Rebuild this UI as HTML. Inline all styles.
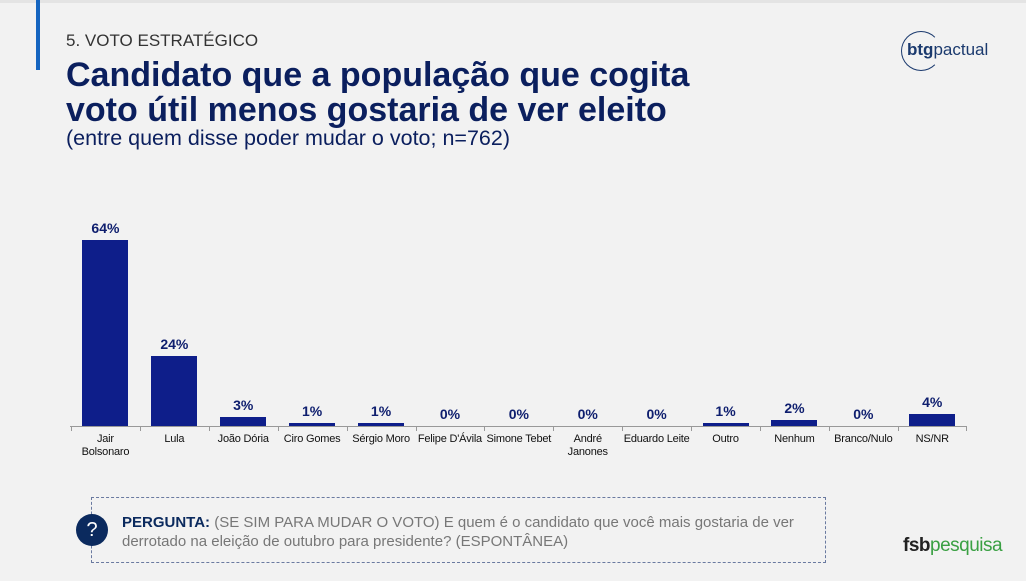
<!DOCTYPE html>
<html><head><meta charset="utf-8"><style>
body{margin:0;width:1026px;height:581px;background:#f2f2f2;position:relative;overflow:hidden;font-family:"Liberation Sans",sans-serif}
.a{position:absolute}
.bar{position:absolute;background:#0e1e8a;width:46px}
.v{position:absolute;width:70px;text-align:center;font-weight:bold;font-size:14px;color:#0e1e6e}
.c{position:absolute;width:72px;text-align:center;font-size:11px;color:#111;line-height:13px;top:433px;white-space:nowrap;letter-spacing:-0.2px}
</style></head><body>
<div class="a" style="left:0;top:0;width:1026px;height:3px;background:#e4e4e4"></div>
<div class="a" style="left:36px;top:0;width:4px;height:70px;background:#1565c0"></div>
<div class="a" style="left:66px;top:31px;font-size:17px;color:#333">5. VOTO ESTRATÉGICO</div>
<div class="a" style="left:66px;top:58px;font-size:34px;font-weight:bold;color:#0b1f5e;line-height:35px;white-space:nowrap">Candidato que a população que cogita<br>voto útil menos gostaria de ver eleito</div>
<div class="a" style="left:66px;top:126px;font-size:21.5px;color:#0b1f5e">(entre quem disse poder mudar o voto; n=762)</div>
<div class="a" style="left:901px;top:31px;width:38px;height:38px;border:1.5px solid #1b3a6e;border-radius:50%;border-right-color:transparent"></div>
<div class="a" style="left:907px;top:40px;font-size:17px;color:#1b3a6e"><b>btg</b>pactual</div>
<div class="a" style="left:70px;top:426px;width:896px;height:1px;background:#999"></div>
<div id="ch"></div>
<div class="a" style="left:91px;top:497px;width:733px;height:64px;border:1.5px dashed #6a7aa0"></div>
<div class="a" style="left:76px;top:514px;width:32px;height:32px;border-radius:50%;background:#0b2a5e;color:#fff;font-size:20px;text-align:center;line-height:32px">?</div>
<div class="a" style="left:122px;top:513px;width:700px;font-size:15px;line-height:19px;color:#777;white-space:nowrap"><b style="color:#0b2a5e">PERGUNTA:</b> (SE SIM PARA MUDAR O VOTO) E quem é o candidato que você mais gostaria de ver<br>derrotado na eleição de outubro para presidente? (ESPONTÂNEA)</div>
<div class="a" style="left:903px;top:535px;font-size:19px;color:#222;letter-spacing:-0.5px"><b>fsb</b><span style="color:#3aa043">pesquisa</span></div>
<script>
var d=[["Jair<br>Bolsonaro",64],["Lula",24],["João Dória",3],["Ciro Gomes",1],["Sérgio Moro",1],["Felipe D'Ávila",0],["Simone Tebet",0],["André<br>Janones",0],["Eduardo Leite",0],["Outro",1],["Nenhum",2],["Branco/Nulo",0],["NS/NR",4]];
var h="",s=68.9;
d.forEach(function(e,i){var cx=71+s*(i+0.5);var bh=e[1]*2.91;
h+='<div class="a" style="left:'+(71+s*i)+'px;top:426px;width:1px;height:5px;background:#999"></div>';
if(bh>0)h+='<div class="bar" style="left:'+(cx-23)+'px;top:'+(426-bh)+'px;height:'+bh+'px"></div>';
h+='<div class="v" style="left:'+(cx-35)+'px;top:'+(426-bh-20)+'px">'+e[1]+'%</div>';
h+='<div class="c" style="left:'+(cx-36)+'px">'+e[0]+'</div>';});
h+='<div class="a" style="left:966px;top:426px;width:1px;height:5px;background:#999"></div>';
document.getElementById("ch").innerHTML=h;
</script>
</body></html>
